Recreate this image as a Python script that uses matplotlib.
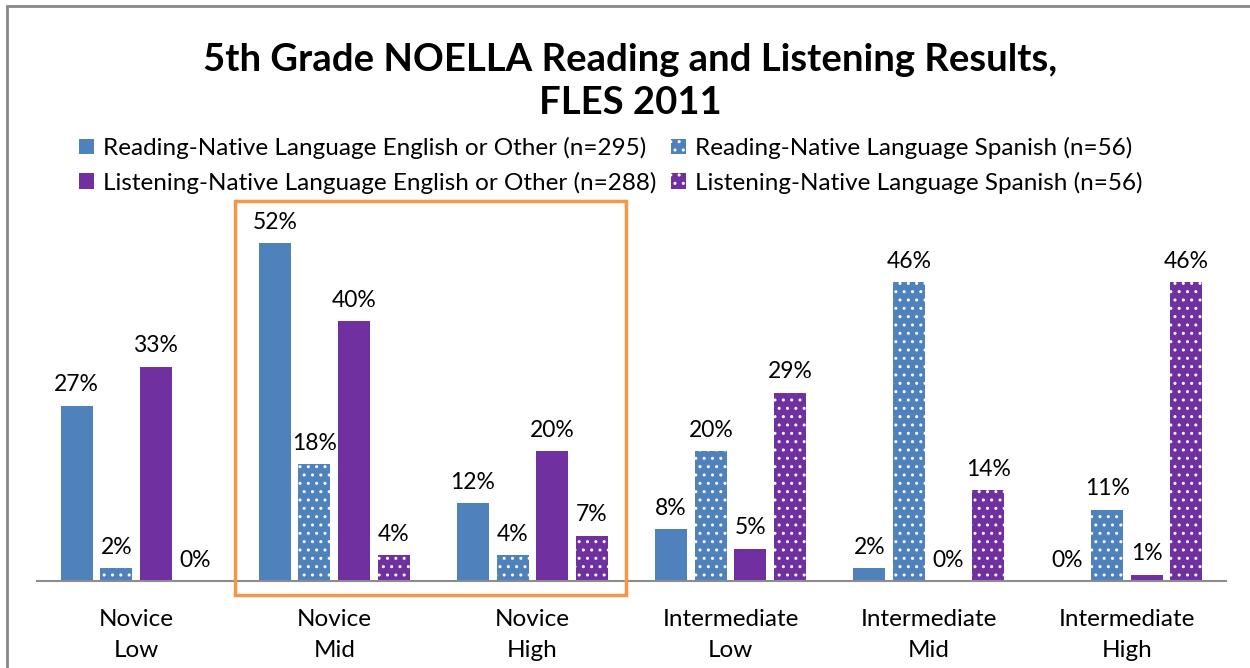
import matplotlib
matplotlib.use("Agg")
import matplotlib.pyplot as plt
from matplotlib.patches import Rectangle
import numpy as np

categories = ["Novice\nLow", "Novice\nMid", "Novice\nHigh",
              "Intermediate\nLow", "Intermediate\nMid", "Intermediate\nHigh"]
series_names = ["Reading-Native Language English or Other (n=295)",
                "Reading-Native Language Spanish (n=56)",
                "Listening-Native Language English or Other (n=288)",
                "Listening-Native Language Spanish (n=56)"]
reading_eo = [27, 52, 12, 8, 2, 0]
reading_sp = [2, 18, 4, 20, 46, 11]
listening_eo = [33, 40, 20, 5, 0, 1]
listening_sp = [0, 4, 7, 29, 14, 46]
values = [reading_eo, reading_sp, listening_eo, listening_sp]

BLUE = "#4F81BD"
PURPLE = "#7030A0"
colors = [BLUE, BLUE, PURPLE, PURPLE]
dotted = [False, True, False, True]

FONT = "Lato"
plt.rcParams["font.family"] = [FONT, "DejaVu Sans"]
plt.rcParams["hatch.linewidth"] = 1.0

W, H = 1250, 668
fig = plt.figure(figsize=(W / 100, H / 100), dpi=100)
fig.patch.set_facecolor("white")

# chart border
fig.patches.append(Rectangle((7 / W, -0.1), 1.2, (H - 6) / H + 0.1, transform=fig.transFigure,
                             fill=False, edgecolor="#878787", linewidth=2.0))

ax = fig.add_axes([37 / W, (H - 581) / H, (1226 - 37) / W, (581 - 191) / H])
x = np.arange(len(categories))
slot = 0.2
bw = 0.162
for i, (vals, c, d) in enumerate(zip(values, colors, dotted)):
    pos = x + (i - 1.5) * slot
    if d:
        ax.bar(pos, vals, bw, color=c, edgecolor="white", linewidth=0, hatch="..")
    else:
        ax.bar(pos, vals, bw, color=c, linewidth=0)
    for p, v in zip(pos, vals):
        ax.annotate(f"{v}%", (p, v), xytext=(0, 7.5), textcoords="offset points",
                    ha="center", va="bottom", fontsize=16.5, color="black")

ax.set_xlim(-0.5, len(categories) - 0.5)
ax.set_ylim(0, 60)
ax.set_yticks([])
ax.set_xticks(x)
ax.set_xticklabels(categories, fontsize=17.5, linespacing=1.6)
ax.tick_params(axis="x", length=0, pad=20)
for s in ["top", "right", "left"]:
    ax.spines[s].set_visible(False)
ax.spines["bottom"].set_color("#8C8C8C")
ax.spines["bottom"].set_linewidth(1.5)

# legend
handles = []
for c, d in zip(colors, dotted):
    if d:
        handles.append(Rectangle((0, 0), 1, 1, facecolor=c, edgecolor="white", linewidth=0, hatch=".."))
    else:
        handles.append(Rectangle((0, 0), 1, 1, facecolor=c, linewidth=0))
leg_kw = dict(loc="upper left", ncol=1, frameon=False, fontsize=17.5,
              handlelength=0.62, handleheight=0.62, handletextpad=0.35,
              labelspacing=0.52, borderaxespad=0, borderpad=0)
fig.legend([handles[0], handles[2]], [series_names[0], series_names[2]],
           bbox_to_anchor=(79 / W, 1 - 137 / H), **leg_kw)
fig.legend([handles[1], handles[3]], [series_names[1], series_names[3]],
           bbox_to_anchor=(671 / W, 1 - 137 / H), **leg_kw)

# title
fig.text(630 / W, 1 - 60 / H, "5th Grade NOELLA Reading and Listening Results,",
         ha="center", va="center", fontsize=27.5, fontweight="bold")
fig.text(630 / W, 1 - 103 / H, "FLES 2011", ha="center", va="center", fontsize=27.5, fontweight="bold")

# highlight box
fig.patches.append(Rectangle((235 / W, 1 - 595 / H), (626 - 235) / W, (595 - 201) / H,
                             transform=fig.transFigure, fill=False, edgecolor="#F79646",
                             linewidth=2.5, zorder=10))

fig.savefig("out.png", dpi=100)
